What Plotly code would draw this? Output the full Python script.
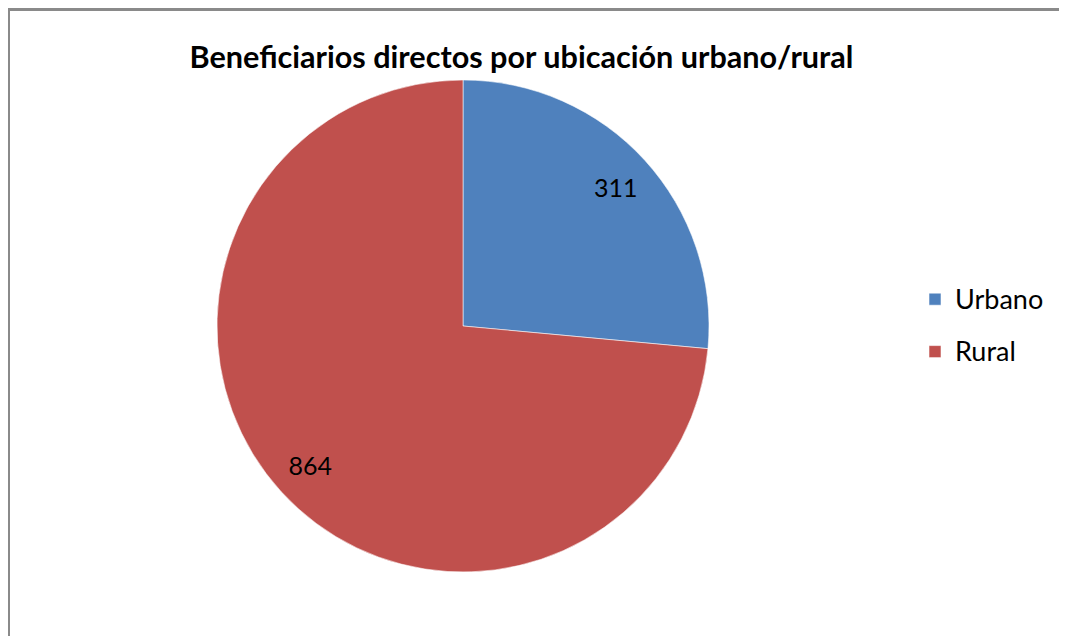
import plotly.graph_objects as go

labels = ["Urbano", "Rural"]
values = [311, 864]
colors = ["#4F81BD", "#C0504D"]
title_text = "Beneficiarios directos por ubicación urbano/rural"

# page has an 8px body margin; figure size chosen to fill the window
OFF = 8
W, H = 1067 - OFF, 636 - OFF
cx, cy, r = 463 - OFF, 326 - OFF, 246
dom = dict(x=[(cx - r) / W, (cx + r) / W], y=[1 - (cy + r) / H, 1 - (cy - r) / H])

legend_labels = ['<span style="font-size:27px;baseline-shift:5px">' + s + "</span>" for s in labels]

fig = go.Figure()
# the pie itself
fig.add_trace(go.Pie(
    labels=legend_labels,
    values=values,
    sort=False,
    direction="clockwise",
    rotation=0,
    marker=dict(colors=colors, line=dict(color="rgba(255,255,255,0.55)", width=1)),
    textinfo="none",
    hovertext=labels,
    hoverinfo="text+value+percent",
    domain=dom,
))
# value labels, placed in the outer ring of the same slices
fig.add_trace(go.Pie(
    labels=legend_labels,
    values=values,
    sort=False,
    direction="clockwise",
    rotation=0,
    hole=0.68,
    marker=dict(colors=["rgba(0,0,0,0)"] * len(values), line=dict(width=0)),
    textinfo="value",
    textposition="inside",
    insidetextorientation="horizontal",
    textfont=dict(family="Lato", size=25, color="#000000"),
    hoverinfo="skip",
    showlegend=False,
    domain=dom,
))

fig.update_layout(
    width=W, height=H,
    margin=dict(l=0, r=0, t=0, b=0),
    paper_bgcolor="white",
    plot_bgcolor="white",
    title=dict(text="<b>" + title_text + "</b>", x=(521.5 - OFF) / W, xanchor="center",
               y=1 - (57 - OFF) / H, yanchor="middle", yref="container",
               font=dict(family="Lato", size=30.6, color="#000000")),
    legend=dict(x=(915 - OFF) / W, xanchor="left", y=1 - (325.5 - OFF) / H, yanchor="middle",
                font=dict(family="Lato", size=38, color="#000000"),
                bgcolor="rgba(0,0,0,0)"),
    shapes=[dict(type="rect", xref="paper", yref="paper",
                 x0=0.5 / W, x1=1.05, y0=-0.05, y1=1 - 1.5 / H,
                 line=dict(color="#8a8a8a", width=3), fillcolor="rgba(0,0,0,0)",
                 layer="above")],
)

fig.write_html("out.html")
